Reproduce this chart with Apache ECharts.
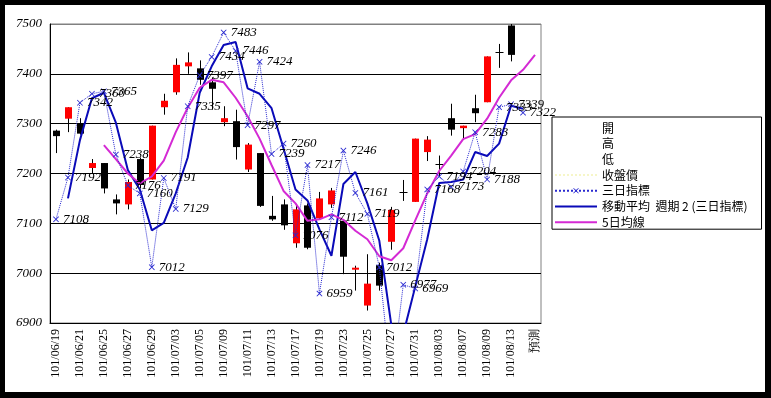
<!DOCTYPE html>
<html>
<head>
<meta charset="utf-8">
<script src="https://cdn.jsdelivr.net/npm/echarts@6/dist/echarts.min.js"></script>
<style>
  html, body { margin: 0; padding: 0; background: #000; }
  #chart1 { width: 771px; height: 398px; }
</style>
</head>
<body>
<div id="chart1"></div>
<script>
// trading days, every other one is labelled
var dates = ["101/06/19","101/06/20","101/06/21","101/06/22","101/06/25","101/06/26","101/06/27","101/06/28","101/06/29",
  "101/07/02","101/07/03","101/07/04","101/07/05","101/07/06","101/07/09","101/07/10","101/07/11","101/07/12","101/07/13",
  "101/07/16","101/07/17","101/07/18","101/07/19","101/07/20","101/07/23","101/07/24","101/07/25","101/07/26","101/07/27",
  "101/07/30","101/07/31","101/08/01","101/08/03","101/08/06","101/08/07","101/08/08","101/08/09","101/08/10","101/08/13",
  "101/08/14","預測"]

// 開 高 低 收盤價
var opens  = [7286,7310,7300,7211,7221,7148,7138,7229,7188,7333,7363,7415,7411,7383,7303,7305,7208,7241,7115,7138,
  7060,7136,7110,7138,7105,7009,6935,7016,7063,7163,7143,7243,7220,7311,7291,7331,7343,7443,7497]
var highs  = [7288,7333,7311,7229,7221,7158,7188,7232,7296,7360,7431,7443,7427,7393,7335,7328,7261,7241,7155,7148,
  7135,7140,7163,7171,7108,7015,7038,7021,7133,7187,7270,7275,7236,7340,7296,7358,7435,7460,7500]
var lows   = [7241,7283,7278,7201,7160,7118,7128,7170,7188,7318,7358,7400,7378,7328,7295,7228,7203,7133,7105,7087,
  7051,7048,7108,7131,6998,6965,6925,6965,7047,7145,7143,7225,7195,7276,7268,7303,7343,7412,7425]
var closes = [7275,7333,7280,7221,7170,7140,7183,7177,7296,7346,7418,7423,7388,7370,7311,7253,7258,7135,7108,7096,
  7128,7051,7150,7166,7033,7011,6979,6975,7127,7163,7270,7268,7220,7288,7296,7321,7435,7443,7438]

// 三日指標
var threeDay = [7108,7192,7342,7360,7365,7238,7176,7160,7012,7191,7129,7335,7397,7434,7483,7446,7297,7424,7239,7260,
  7076,7217,6959,7112,7246,7161,7119,7012,6780,6977,6969,7168,7194,7173,7204,7283,7188,7333,7339,7322,null]

// 移動平均 週期 2 (三日指標)
var movAvg2 = [null,7150,7267,7351,7362,7302,7207,7168,7086,7101,7160,7232,7362,7415,7458,7464,7371,7360,7331,7250,
  7168,7146,7088,7035,7179,7203,7140,7065,6896,6878,6973,7068,7181,7183,7188,7243,7235,7260,7336,7330,null]

// 5日均線
var ma5 = [null,null,null,null,7257,7229,7200,7180,7194,7226,7283,7332,7372,7388,7383,7352,7315,7270,7217,7165,
  7140,7105,7108,7118,7107,7085,7068,7034,7026,7050,7106,7160,7205,7236,7269,7279,7310,7352,7387,7408,7438]

var yTicks = [6900,7000,7100,7200,7300,7400,7500]

var legendNames = ["開","高","低","收盤價","三日指標","移動平均  週期 2 (三日指標)","5日均線"]

var candleData = opens.map(function (o, i) {
  return [i, o, closes[i], lows[i], highs[i]]
})

var serif = "Liberation Serif"
var xMark = "path://M0,1L1,0L5,4L9,0L10,1L6,5L10,9L9,10L5,6L1,10L0,9L4,5Z"
var hidden = { opacity: 0 }

var chart = echarts.init(document.querySelector("#chart1"))

var option = {
  animation: false,
  backgroundColor: "#fff",
  graphic: [
    { type: "rect", shape: { x: 0, y: 0, width: 771, height: 5 }, style: { fill: "#000" } },
    { type: "rect", shape: { x: 0, y: 0, width: 5, height: 398 }, style: { fill: "#000" } },
    { type: "rect", shape: { x: 765, y: 0, width: 6, height: 398 }, style: { fill: "#000" } },
    { type: "rect", shape: { x: 0, y: 392, width: 771, height: 6 }, style: { fill: "#000" } }
  ],
  grid: {
    left: 50, right: 230, top: 24, bottom: 75,
    show: true, borderColor: "#808080", borderWidth: 1
  },
  legend: {
    orient: "vertical",
    left: 552, top: 117,
    data: [
      { name: legendNames[0], itemStyle: hidden, lineStyle: hidden },
      { name: legendNames[1], itemStyle: hidden, lineStyle: hidden },
      { name: legendNames[2], itemStyle: hidden, lineStyle: hidden },
      { name: legendNames[3], itemStyle: hidden },
      { name: legendNames[4] },
      { name: legendNames[5], itemStyle: hidden },
      { name: legendNames[6], itemStyle: hidden }
    ],
    itemWidth: 42, itemHeight: 7, itemGap: 3.7,
    padding: [5, 14, 1, 2],
    borderColor: "#000", borderWidth: 1,
    backgroundColor: "#fff",
    selectedMode: false,
    textStyle: { fontSize: 12, color: "#000", lineHeight: 12, fontFamily: "Noto Sans CJK TC" }
  },
  xAxis: {
    type: "category",
    data: dates,
    boundaryGap: true,
    axisLine: { lineStyle: { color: "#000" } },
    axisTick: { interval: 0, length: 4, lineStyle: { color: "#000" } },
    axisLabel: {
      interval: 1, rotate: 90, margin: 6,
      color: "#000", fontSize: 12, fontFamily: serif
    },
    splitLine: { show: false }
  },
  yAxis: {
    type: "value",
    min: yTicks[0], max: yTicks[yTicks.length - 1], interval: 100,
    axisLine: { show: true, lineStyle: { color: "#000" } },
    axisTick: { show: false },
    axisLabel: {
      color: "#000", fontSize: 13, fontFamily: serif, fontStyle: "italic", margin: 8,
      formatter: function (v) { return String(v) }
    },
    splitLine: { lineStyle: { color: ["#000", "#000", "#000", "#000", "#000", "#000", "#808080"] } }
  },
  series: [
    {
      type: "custom",
      name: "K",
      data: candleData,
      encode: { x: 0, y: [1, 2, 3, 4] },
      z: 2,
      renderItem: function (params, api) {
        var i = api.value(0)
        var o = api.value(1), c = api.value(2), l = api.value(3), h = api.value(4)
        var pO = api.coord([i, o]), pC = api.coord([i, c])
        var pL = api.coord([i, l]), pH = api.coord([i, h])
        var cx = Math.round(pO[0]) + 0.5
        var w = 7
        var kids = [{
          type: "line",
          shape: { x1: cx, y1: pH[1], x2: cx, y2: pL[1] },
          style: { stroke: "#000", lineWidth: 1 }
        }]
        if (o === c) {
          kids.push({
            type: "line",
            shape: { x1: cx - 4, y1: Math.round(pO[1]) + 0.5, x2: cx + 4, y2: Math.round(pO[1]) + 0.5 },
            style: { stroke: "#000", lineWidth: 1 }
          })
        } else {
          kids.push({
            type: "rect",
            shape: { x: cx - w / 2, y: Math.min(pO[1], pC[1]), width: w, height: Math.max(Math.abs(pO[1] - pC[1]), 2) },
            style: { fill: c > o ? "#ff0000" : "#000000" }
          })
        }
        return { type: "group", children: kids }
      }
    },
    { name: "開", type: "line", data: [], symbol: "none", lineStyle: { color: "rgba(0,0,0,0)" }, itemStyle: { color: "rgba(0,0,0,0)" } },
    { name: "高", type: "line", data: [], symbol: "none", lineStyle: { color: "rgba(0,0,0,0)" }, itemStyle: { color: "rgba(0,0,0,0)" } },
    { name: "低", type: "line", data: [], symbol: "none", lineStyle: { color: "rgba(0,0,0,0)" }, itemStyle: { color: "rgba(0,0,0,0)" } },
    { name: "收盤價", type: "line", data: [], symbol: "none", lineStyle: { color: "#f6f6c8", type: "dotted" }, itemStyle: { color: "#f6f6c8" } },
    {
      name: "移動平均  週期 2 (三日指標)",
      type: "line",
      data: movAvg2,
      symbol: "none",
      z: 3,
      lineStyle: { color: "#0a0ab8", width: 2 },
      itemStyle: { color: "#0a0ab8" }
    },
    {
      name: "5日均線",
      type: "line",
      data: ma5,
      symbol: "none",
      z: 3,
      lineStyle: { color: "#d42ad4", width: 2 },
      itemStyle: { color: "#d42ad4" }
    },
    {
      name: "三日指標",
      type: "line",
      data: threeDay,
      z: 5,
      symbol: xMark,
      symbolSize: 6,
      lineStyle: { color: "#2a2ad0", width: 1, type: "dotted" },
      itemStyle: { color: "#2a2ad0", borderWidth: 0 },
      label: {
        show: true, position: "right", distance: 4,
        color: "#000", fontSize: 13, fontFamily: serif, fontStyle: "italic"
      }
    }
  ]
}

chart.setOption(option)
</script>
</body>
</html>
